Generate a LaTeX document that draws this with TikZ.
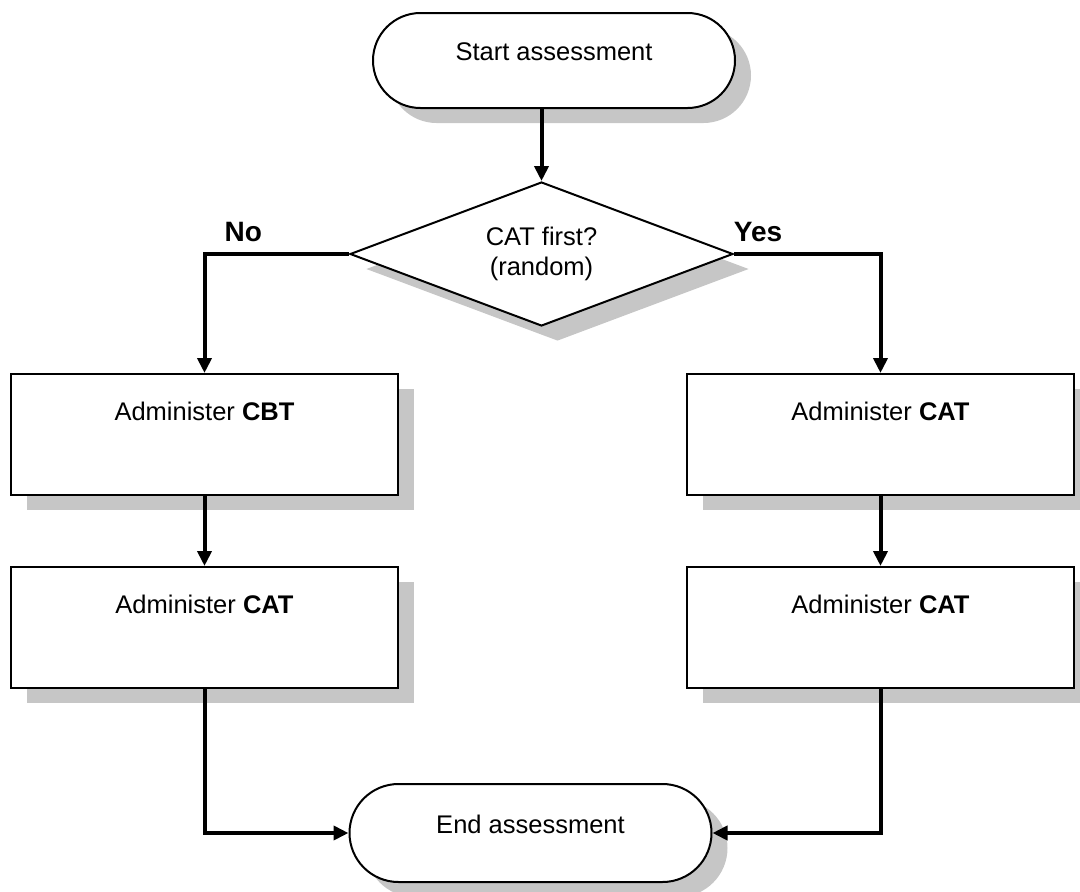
\documentclass[tikz,border=0pt]{standalone}
\usepackage{fontspec}
\setmainfont{Liberation Sans}
\usetikzlibrary{shapes.geometric,shapes.misc,shadows,arrows.meta}

\begin{document}
\begin{tikzpicture}[x=1pt,y=-1pt]

    \tikzset{
      shade/.style={
        drop shadow={shadow xshift=16pt,shadow yshift=-15pt,
          fill=gray!45,opacity=1},
      },
      terminal/.style={
        rounded rectangle,
        draw,
        line width=2pt,
        fill=white,
        shade,
        minimum width=362pt,
        inner sep=0pt,
        text height=18pt,
        text depth=18pt,
        font=\fontsize{25.5}{30}\selectfont,
      },
      decision/.style={
        diamond,
        aspect=2.66,
        draw,
        line width=2pt,
        fill=white,
        shade,
        minimum width=383pt,
        minimum height=144pt,
        inner sep=0pt,
        align=center,
        font=\fontsize{25.5}{30}\selectfont,
      },
      process/.style={
        rectangle,
        draw,
        line width=2pt,
        fill=white,
        shade,
        minimum width=387pt,
        minimum height=121pt,
        inner sep=0pt,
        text height=18pt,
        text depth=47pt,
        font=\fontsize{25.5}{30}\selectfont,
      },
      flow/.style={
        line width=4pt,
        -{Triangle[length=15pt,width=14pt]},
      },
      branch/.style={
        font=\fontsize{28}{32}\selectfont\bfseries,
        inner sep=0pt,
      },
    }
    \useasboundingbox (0,0) rectangle (1080,892);

	 \node[terminal, minimum height=95pt] (start) at (554,60.5) {Start assessment};

	 \node[decision] (decide) at (541.5,254) {CAT first?\\(random)};

	 \node[process] (cbt) at (204.5,434.5) {Administer \textbf{CBT}};

	 \node[process] (catleft) at (204.5,627.5) {Administer \textbf{CAT}};

	 \node[process] (catright) at (880.5,434.5) {Administer \textbf{CAT}};

	 \node[process] (catsecond) at (880.5,627.5) {Administer \textbf{CAT}};

	 \node[terminal, minimum height=98pt] (finish) at (530.5,833) {End assessment};

	 \draw[flow] (start.south -| decide.north) -- (decide.north);

	 \draw[flow] (decide.west) -| node[branch, pos=0.366, above=10pt] {No} (cbt.north);

	 \draw[flow] (decide.east) -| node[branch, pos=0.082, above=10pt] {Yes} (catright.north);

	 \draw[flow] (cbt) -- (catleft);

	 \draw[flow] (catright) -- (catsecond);

	 \draw[flow] (catleft.south) |- (finish.west);

	 \draw[flow] (catsecond.south) |- (finish.east);

\end{tikzpicture}
\end{document}
